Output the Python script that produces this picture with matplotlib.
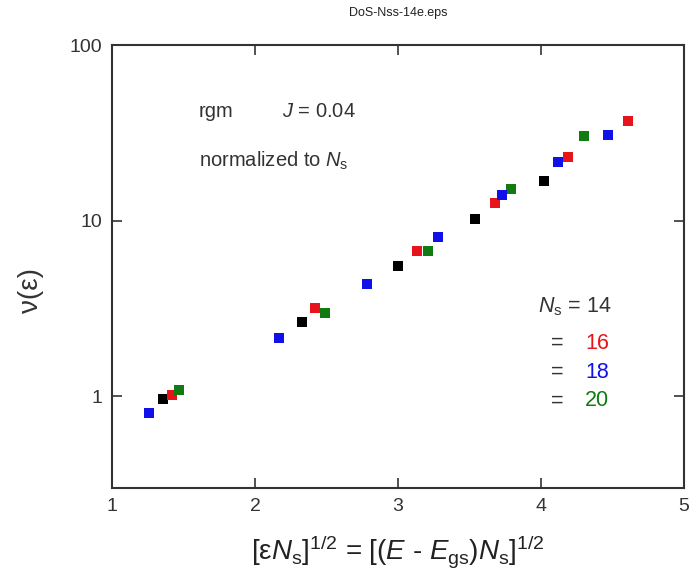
import matplotlib
matplotlib.use("Agg")
import matplotlib.pyplot as plt

plt.rcParams['font.family'] = ['Liberation Sans', 'DejaVu Sans']
plt.rcParams['mathtext.fontset'] = 'custom'
plt.rcParams['mathtext.rm'] = 'Liberation Sans'
plt.rcParams['mathtext.it'] = 'Liberation Sans:italic'
plt.rcParams['mathtext.sf'] = 'Liberation Sans'

# data
x14 = [1.355, 2.33, 3.0, 3.54, 4.02]
y14 = [0.96, 2.65, 5.5, 10.2, 16.8]
x16 = [1.42, 2.42, 3.13, 3.68, 4.19, 4.61]
y16 = [1.02, 3.16, 6.75, 12.6, 23.0, 37.0]
x18 = [1.26, 2.17, 2.78, 3.28, 3.73, 4.12, 4.47]
y18 = [0.80, 2.15, 4.35, 8.1, 13.9, 21.7, 30.9]
x20 = [1.47, 2.49, 3.21, 3.79, 4.30]
y20 = [1.09, 2.98, 6.75, 15.1, 30.2]
xticks = [1, 2, 3, 4, 5]
yticks = [1, 10, 100]
ytick_labels = ['1', '10', '100']

fig = plt.figure(figsize=(6.89, 5.81), dpi=100)
ax = fig.add_axes([112/689, 93/581, 572/689, 443/581])

ms = 7
ax.plot(x14, y14, 's', color='black', ms=ms, mew=0, zorder=3)
ax.plot(x16, y16, 's', color='#e8141b', ms=ms, mew=0, zorder=3)
ax.plot(x18, y18, 's', color='#1010e8', ms=ms, mew=0, zorder=4)
ax.plot(x20, y20, 's', color='#117a11', ms=ms, mew=0, zorder=3)

ax.set_yscale('log')
ax.set_xlim(1, 5)
ax.set_ylim(0.3, 100)
ax.set_xticks(xticks)
ax.set_xticklabels([str(v) for v in xticks])
ax.set_yticks(yticks)
ax.set_yticklabels(ytick_labels)
ax.yaxis.set_minor_locator(matplotlib.ticker.NullLocator())
ax.tick_params(direction='in', length=7, width=1.2, top=True, right=True,
               labelsize=14, colors='#333333', pad=7)
for s in ax.spines.values():
    s.set_linewidth(1.5)
    s.set_color('#333333')

ax.set_xlabel(r'[ε$N_{\mathrm{s}}$]$^{1/2}$ = [($E$ - $E_{\mathrm{gs}}$)$N_{\mathrm{s}}$]$^{1/2}$',
              fontsize=20, color='#222222', labelpad=13)
ax.set_ylabel('ν(ε)', fontsize=20, color='#333333')
ax.yaxis.set_label_coords(-0.142, 0.445)
ax.yaxis.label.set_verticalalignment('center')
fig.text(398/689, 1 - 13/581, 'DoS-Nss-14e.eps', ha='center', va='center', fontsize=9, color='#222222')

tc = '#333333'
ax.text(1.605, 42, 'rgm', fontsize=14.5, va='center', color=tc)
ax.text(2.19, 42, r'$J$ = 0.04', fontsize=14.5, va='center', color=tc)
ax.text(1.605, 22, r'normalized to $N_{\mathrm{s}}$', fontsize=14.5, va='center', color=tc)

fs = 15.5
ax.text(3.98, 3.25, r'$N_{\mathrm{s}}$ = 14', fontsize=fs, va='center', color=tc)
ax.text(4.07, 2.0, '=', fontsize=fs, va='center', color=tc)
ax.text(4.31, 2.0, '16', fontsize=fs, va='center', color='#e8141b')
ax.text(4.07, 1.37, '=', fontsize=fs, va='center', color=tc)
ax.text(4.31, 1.37, '18', fontsize=fs, va='center', color='#1010e8')
ax.text(4.07, 0.94, '=', fontsize=fs, va='center', color=tc)
ax.text(4.31, 0.94, '20', fontsize=fs, va='center', color='#117a11')

fig.savefig('out.png', dpi=100)
